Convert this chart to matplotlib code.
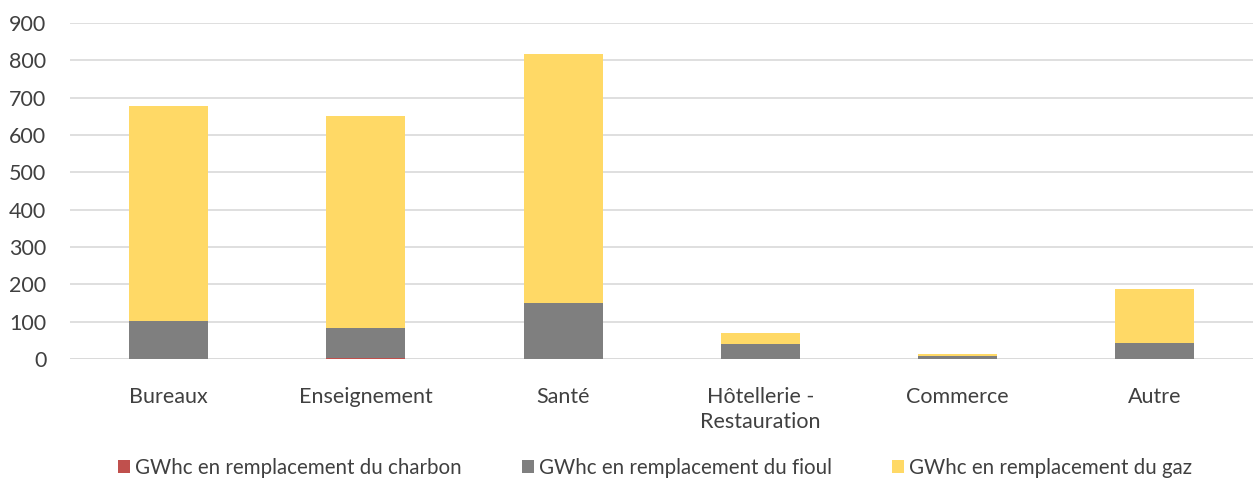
import numpy as np
import matplotlib.pyplot as plt

plt.rcParams['font.family'] = ['Lato', 'DejaVu Sans']

# values (GWhc)
categories = ["Bureaux", "Enseignement", "Santé", "Hôtellerie -\nRestauration", "Commerce", "Autre"]
charbon = [0, 4, 0, 0, 0, 0]
fioul = [103, 78, 149, 41, 9, 44]
gaz = [575, 569, 668, 29, 5, 144]

labels = ["GWhc en remplacement du charbon",
          "GWhc en remplacement du fioul",
          "GWhc en remplacement du gaz"]
colors = ["#C0504D", "#7F7F7F", "#FFD966"]

fig = plt.figure(figsize=(12.55, 4.82), dpi=100)
ax = fig.add_axes([0.0558, 0.2552, 0.943, 0.6968])

x = np.arange(len(categories))
w = 0.4
bottom = np.zeros(len(categories))
for vals, lab, col in zip([charbon, fioul, gaz], labels, colors):
    ax.bar(x, vals, w, bottom=bottom, color=col, label=lab, zorder=3)
    bottom += np.array(vals)

ax.set_xlim(-0.5, len(categories) - 0.5)
ax.set_ylim(0, 900)
ax.set_yticks(np.arange(0, 901, 100))
ax.grid(axis='y', color='#D9D9D9', linewidth=1.2, zorder=0)
ax.set_xticks(x)
ax.set_xticklabels(categories, linespacing=1.35)
ax.tick_params(axis='both', length=0, labelsize=15.5, labelcolor='#404040')
ax.tick_params(axis='x', pad=20)
ax.tick_params(axis='y', pad=17)
for s in ax.spines.values():
    s.set_visible(False)
ax.axhline(0, color='#D9D9D9', linewidth=1.2, zorder=2)

fig.legend(loc='center', bbox_to_anchor=(0.522, 0.03), ncol=3, frameon=False,
           fontsize=14.8, handlelength=0.6, handleheight=0.6, handletextpad=0.25,
           columnspacing=2.9, labelcolor='#404040')

fig.savefig("out.png", dpi=100)
